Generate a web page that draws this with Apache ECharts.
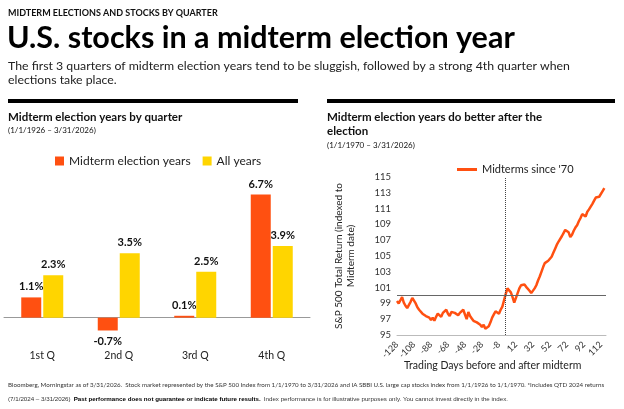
<!DOCTYPE html>
<html>
<head>
<meta charset="UTF-8">
<title>Midterm election year</title>
<script src="https://cdn.jsdelivr.net/npm/echarts@6/dist/echarts.min.js"></script>
</head>
<body style="margin:0;background:#fff;">
<div id="chart" style="width:624px;height:409px;"></div>
<script type="text/javascript">
    // left chart data
    var quarters = ['1st Q', '2nd Q', '3rd Q', '4th Q'];
    var midtermYears = [1.1, -0.7, 0.1, 6.7];
    var allYears = [2.3, 3.5, 2.5, 3.9];

    // right chart data (every 2 trading days)
    var days = [];
    for (var d = -128; d <= 118; d += 2) days.push(String(d));
    var midtermsSince70 = [
        99.3, 99.0, 99.4, 99.8, 99.1, 98.7, 98.4, 98.6, 99.2, 99.7,
        99.8, 99.0, 98.5, 98.2, 98.0, 97.7, 97.8, 97.4, 97.5, 97.2,
        96.9, 97.2, 96.8, 97.3, 97.7, 97.5, 97.3, 97.8, 98.0, 98.2,
        97.7, 97.4, 97.9, 97.7, 97.8, 97.6, 97.5, 97.8, 97.9, 98.2,
        97.6, 97.0, 97.9, 97.4, 97.1, 96.8, 97.0, 96.6, 96.6, 96.3,
        96.0, 96.3, 95.8, 95.7, 96.1, 96.6, 97.2, 97.6, 98.0, 97.9,
        97.7, 98.2, 98.6, 99.4, 100.2, 100.9, 100.7, 100.4, 99.8, 99.1,
        99.7, 100.3, 100.9, 101.3, 101.2, 101.4, 101.1, 101.3, 100.6, 100.3,
        100.4, 100.9, 101.3, 101.9, 102.4, 103.0, 103.6, 104.1, 104.0, 104.4,
        104.6, 104.9, 105.4, 105.9, 106.4, 106.8, 107.0, 107.5, 107.9, 108.3,
        108.4, 108.0, 107.4, 107.7, 108.2, 108.6, 108.9, 109.4, 109.8, 110.3,
        110.1, 110.0, 110.6, 110.9, 111.1, 111.6, 112.0, 112.4, 112.6, 112.5,
        112.7, 113.2, 113.6, 113.8
    ];

    var red = '#FF5011';
    var yellow = '#FFD500';
    var font = 'Lato, "Open Sans", sans-serif';

    var chart = echarts.init(document.getElementById('chart'));

    function txt(x, y, s, size, weight, color) {
        return { type: 'text', left: x, top: y, style: { text: s, fontSize: size, fontWeight: weight || 'normal', fill: color || '#111', fontFamily: font } };
    }

    var option = {
        textStyle: { fontFamily: font },
        graphic: [
            txt(8, 9, 'MIDTERM ELECTIONS AND STOCKS BY QUARTER', 9, 'bold'),
            txt(7, 23, 'U.S. stocks in a midterm election year', 30.5, 'bold', '#000'),
            txt(8, 60, 'The first 3 quarters of midterm election years tend to be sluggish, followed by a strong 4th quarter when', 12.3, 'normal', '#222'),
            txt(8, 74, 'elections take place.', 12.3, 'normal', '#222'),
            { type: 'rect', shape: { x: 8, y: 99, width: 290, height: 4 }, style: { fill: '#000' } },
            { type: 'rect', shape: { x: 327, y: 99, width: 288, height: 4 }, style: { fill: '#000' } },
            txt(8, 111, 'Midterm election years by quarter', 11.5, 'bold'),
            txt(8, 126, '(1/1/1926 – 3/31/2026)', 8),
            txt(327, 111, 'Midterm election years do better after the', 11.5, 'bold'),
            txt(327, 125, 'election', 11.5, 'bold'),
            txt(327, 141, '(1/1/1970 – 3/31/2026)', 8),
            { type: 'text', x: 345, y: 256, rotation: Math.PI / 2, style: { text: 'S&P 500 Total Return (indexed to\nMidterm date)', fontSize: 10, fill: '#222', align: 'center', verticalAlign: 'middle', fontFamily: font, lineHeight: 12 } },
            txt(404, 360, 'Trading Days before and after midterm', 10.5, 'normal', '#222'),
            txt(8, 382, 'Bloomberg, Morningstar as of 3/31/2026.  Stock market represented by the S&P 500 Index from 1/1/1970 to 3/31/2026 and IA SBBI U.S. large cap stocks index from 1/1/1926 to 1/1/1970. *Includes QTD 2024 returns', 6.2, 'normal', '#333'),
            { type: 'text', left: 8, top: 393, style: { rich: { b: { fontWeight: 'bold', fontSize: 6.2, fill: '#000' }, n: { fontSize: 6.2, fill: '#333' } }, text: '{n|(7/1/2024 – 3/31/2026)} {b|Past performance does not guarantee or indicate future results.} {n|Index performance is for illustrative purposes only. You cannot invest directly in the index.}', fontFamily: font } }
        ],
        legend: [{
            data: ['Midterm election years', 'All years'],
            left: 50, top: 150, itemWidth: 9, itemHeight: 9, itemGap: 12,
            icon: 'rect',
            textStyle: { fontSize: 12, color: '#222' }
        }, {
            data: ['Midterms since \'70'],
            left: 452, top: 159, itemWidth: 20, itemHeight: 3, icon: 'rect',
            textStyle: { fontSize: 11, color: '#222' }
        }],
        grid: [
            { left: 4, width: 306, top: 189, height: 147 },
            { left: 397, right: 18, top: 177, bottom: 74 }
        ],
        xAxis: [{
            gridIndex: 0, type: 'category', data: quarters,
            axisLine: { lineStyle: { color: '#999' } }, axisTick: { show: false },
            axisLabel: { color: '#222', fontSize: 10.5, margin: 14 }
        }, {
            gridIndex: 1, type: 'category', data: days, boundaryGap: false,
            axisLine: { lineStyle: { color: '#bbb' } }, axisTick: { show: false },
            axisLabel: { interval: 9, rotate: 45, color: '#333', fontSize: 9 }
        }],
        yAxis: [{
            gridIndex: 0, type: 'value', min: -1, max: 7, show: false, splitLine: { show: false }
        }, {
            gridIndex: 1, type: 'value', min: 95, max: 115, interval: 2,
            axisLine: { show: false }, axisTick: { show: false }, splitLine: { show: false },
            axisLabel: { color: '#333', fontSize: 9.5, margin: 6 }
        }],
        series: [{
            name: 'Midterm election years', type: 'bar', xAxisIndex: 0, yAxisIndex: 0,
            data: midtermYears.map(function (v) {
                return v < 0 ? { value: v, label: { position: 'bottom' } } : v;
            }),
            barWidth: 20, barGap: '10%', itemStyle: { color: red },
            label: { show: true, formatter: function (p) { return p.value.toFixed(1) + '%'; }, position: 'top', fontWeight: 'bold', fontSize: 11, color: '#111' }
        }, {
            name: 'All years', type: 'bar', xAxisIndex: 0, yAxisIndex: 0,
            data: allYears, barWidth: 20, itemStyle: { color: yellow },
            label: { show: true, formatter: function (p) { return p.value.toFixed(1) + '%'; }, position: 'top', fontWeight: 'bold', fontSize: 11, color: '#111' }
        }, {
            name: 'Midterms since \'70', type: 'line', xAxisIndex: 1, yAxisIndex: 1,
            data: midtermsSince70, showSymbol: false, lineStyle: { color: red, width: 2.5 }, itemStyle: { color: red },
            markLine: {
                silent: true, symbol: 'none', label: { show: false },
                data: [
                    { yAxis: 100, lineStyle: { color: '#666', type: 'solid', width: 1 } },
                    { xAxis: '0', lineStyle: { color: '#444', type: 'dotted', width: 1 } }
                ]
            }
        }]
    };
    chart.setOption(option);
</script>
</body>
</html>
